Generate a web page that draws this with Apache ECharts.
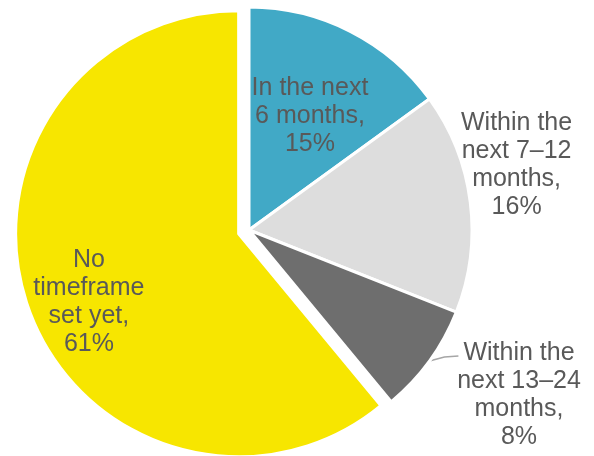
<!DOCTYPE html>
<html>
<head>
<meta charset="utf-8">
<script src="https://cdn.jsdelivr.net/npm/echarts@6/dist/echarts.min.js"></script>
<style>
  html, body { margin: 0; padding: 0; background: #fff; }
  #main { width: 594px; height: 456px; }
</style>
</head>
<body>
<div id="main"></div>
<script>
// slices clockwise from 12 o'clock
var names = ['In the next\n6 months,', 'Within the\nnext 7–12\nmonths,', 'Within the\nnext 13–24\nmonths,', 'No\ntimeframe\nset yet,'];
var values = [15, 16, 8, 61];
var colors = ['#41a9c6', '#dddddd', '#6e6e6e', '#f7e600'];

var chart = echarts.init(document.getElementById('main'), null, { renderer: 'canvas' });

var labelOffsets = [[9, -12], [154, -51], [0, 0], [-42, 30]];

var data = names.map(function (n, i) {
  var item = {
    name: n,
    value: values[i],
    itemStyle: { color: colors[i] },
    label: { offset: labelOffsets[i] }
  };
  if (i === 3) {
    // the exploded slice
    item.selected = true;
    item.select = {
      itemStyle: { color: colors[i], borderColor: '#fff', borderWidth: 3 },
      label: { color: '#595959', offset: labelOffsets[i] }
    };
  }
  if (i === 2) {
    item.label = { position: 'outside' };
    item.labelLine = { show: true, length: 8, length2: 8, lineStyle: { color: '#a6a6a6', width: 1.5 } };
  }
  return item;
});

var option = {
  animation: false,
  series: [{
    type: 'pie',
    center: [249, 230],
    radius: [0, 223],
    startAngle: 90,
    clockwise: true,
    selectedMode: 'single',
    selectedOffset: 11,
    avoidLabelOverlap: false,
    itemStyle: { borderColor: '#ffffff', borderWidth: 3 },
    emphasis: { disabled: true },
    label: {
      show: true,
      position: 'inside',
      formatter: function (p) { return p.name + '\n' + p.value + '%'; },
      color: '#595959',
      fontFamily: 'Liberation Sans, Arial, sans-serif',
      fontSize: 25,
      lineHeight: 28,
      align: 'center'
    },
    labelLine: { show: false },
    labelLayout: function (p) {
      if (p.dataIndex === 2) {
        var res = { x: 519, y: 395, align: 'center', verticalAlign: 'middle' };
        var pts = p.labelLinePoints;
        if (pts && pts.length) {
          var s = pts[0];
          res.labelLinePoints = [[s[0], s[1]], [s[0] + 15, s[1] - 4], [s[0] + 29, s[1] - 5]];
        }
        return res;
      }
    },
    data: data
  }]
};

chart.setOption(option);
</script>
</body>
</html>
